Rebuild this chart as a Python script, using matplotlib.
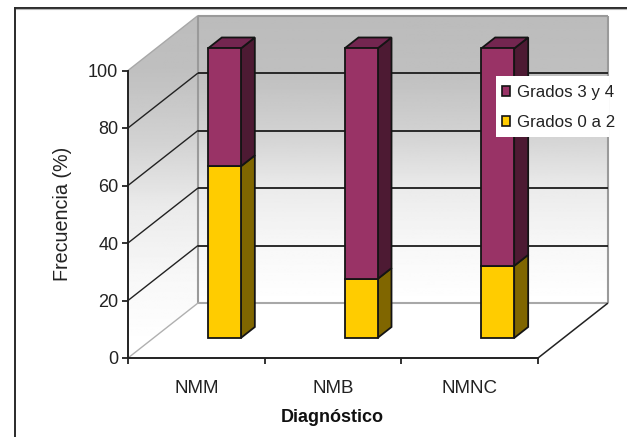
import numpy as np
import matplotlib
matplotlib.use("Agg")
import matplotlib.pyplot as plt
from matplotlib.lines import Line2D
from matplotlib.patches import Patch, Polygon, Rectangle

# Chart data
categories = ["NMM", "NMB", "NMNC"]
grados_0_a_2 = [59.7, 20.5, 25.1]
grados_3_y_4 = [41.0, 80.2, 75.6]
y_ticks = [0, 20, 40, 60, 80, 100]

plt.rcParams["font.family"] = ["Liberation Sans", "DejaVu Sans"]

W, H = 627, 437
fig = plt.figure(figsize=(W / 100, H / 100), dpi=100, facecolor="white")

# Front plane of the 3D box, in pixels
LEFT, RIGHT, BASE, TOP = 128, 538, 358, 70.5
ax = fig.add_axes([LEFT / W, 1 - BASE / H, (RIGHT - LEFT) / W, (BASE - TOP) / H])
ax.set_facecolor("none")
XMAX, YMAX = 3, 100
PX = (RIGHT - LEFT) / XMAX   # pixels per category
PY = (BASE - TOP) / YMAX     # pixels per percent


def shift(x, y, dx_px, dy_px):
    """Offset a data point by a distance given in pixels (dy upward)."""
    return x + dx_px / PX, y + dy_px / PY


# Box depth and bar placement, in pixels
DEPTH_X, DEPTH_Y = 70, 55
BAR_DX, BAR_DY = 28, 20
BAR_WIDTH = 33 / PX
SIDE_X, SIDE_Y = 14, 11

WALL = "#9a9a9a"
GRID = "#1c1c1c"
EDGE = "#141414"


def wall_gradient(polygon, top_px, bottom_px):
    """Fill a polygon with a vertical gray ramp running from dark to white."""
    levels = np.array([0.735, 0.75, 0.82, 0.92, 0.97, 1.0])
    stops = np.array([0.0, 0.2, 0.4, 0.6, 0.8, 1.0])
    ramp = np.interp(np.linspace(0, 1, 256), stops, levels)[:, None]
    y_top = (BASE - top_px) / PY
    y_bottom = (BASE - bottom_px) / PY
    xs = [p[0] for p in polygon]
    im = ax.imshow(ramp, cmap="gray", vmin=0, vmax=1, aspect="auto", zorder=1,
                   extent=(min(xs), max(xs), y_bottom, y_top), origin="upper")
    clip = Polygon(polygon, closed=True, transform=ax.transData)
    im.set_clip_box(fig.bbox)
    im.set_clip_path(clip)


# Box corners
back_x0, back_y0 = shift(0, 0, DEPTH_X, DEPTH_Y)
back_x1, back_y1 = shift(XMAX, YMAX, DEPTH_X, DEPTH_Y)

back_wall = [(back_x0, back_y0), (back_x1, back_y0), (back_x1, back_y1), (back_x0, back_y1)]
side_wall = [(0, 0), (back_x0, back_y0), (back_x0, back_y1), (0, YMAX)]
wall_gradient(back_wall, BASE - (back_y1 * PY), BASE - (back_y0 * PY))
wall_gradient(side_wall, 0, 345)


def seg(p, q, color, lw, z=2):
    ax.plot([p[0], q[0]], [p[1], q[1]], color=color, lw=lw, zorder=z,
            clip_on=False, solid_capstyle="butt")


# Wall outlines
seg((0, YMAX), (back_x0, back_y1), "#a8a8a8", 1.0)
seg((back_x0, back_y1), (back_x1, back_y1), WALL, 1.5)
seg((back_x1, back_y1), (back_x1, back_y0), WALL, 1.5)
seg((back_x0, back_y1), (back_x0, back_y0), WALL, 1.5)
seg((back_x0, back_y0), (back_x1, back_y0), "#a8a8a8", 1.5)
seg((0, 0), (back_x0, back_y0), "#b0b0b0", 1.0)
seg((XMAX, 0), (back_x1, back_y0), "#222222", 1.1)

# Gridlines wrapping the side and back walls
for v in y_ticks[1:-1]:
    level = v + DEPTH_Y / PY
    seg((0, v), (back_x0, level), "#222222", 1.0)
    seg((back_x0, level), (back_x1, level), GRID, 1.3)


def prism(center, low, high, face, side, top=None, z=5):
    """Draw one stacked segment: front from ax.bar, side and lid as polygons."""
    x0, y0 = shift(center - BAR_WIDTH / 2, low, BAR_DX, BAR_DY)
    x1, y1 = shift(center + BAR_WIDTH / 2, high, BAR_DX, BAR_DY)
    sx, sy = SIDE_X / PX, SIDE_Y / PY
    ax.add_patch(Polygon([(x1, y0), (x1 + sx, y0 + sy), (x1 + sx, y1 + sy), (x1, y1)],
                         closed=True, fc=side, ec=EDGE, lw=1.3, zorder=z, clip_on=False))
    if top is not None:
        ax.add_patch(Polygon([(x0, y1), (x0 + sx, y1 + sy), (x1 + sx, y1 + sy), (x1, y1)],
                             closed=True, fc=top, ec=EDGE, lw=1.3, zorder=z, clip_on=False))
    bars = ax.bar((x0 + x1) / 2, y1 - y0, width=x1 - x0, bottom=y0, color=face,
                  edgecolor=EDGE, linewidth=1.3, zorder=z + 0.5)
    bars[0].set_clip_on(False)


centers = np.arange(len(categories)) + 0.5
for c, low, high in zip(centers, grados_0_a_2, grados_3_y_4):
    prism(c, 0, low, "#ffcc00", "#806600")
    prism(c, low, low + high, "#993366", "#4d1a33", "#732650")

# Axes, ticks and labels
ax.set_xlim(0, XMAX)
ax.set_ylim(0, YMAX)
for name in ("top", "right"):
    ax.spines[name].set_visible(False)
for name in ("left", "bottom"):
    ax.spines[name].set_color("#222222")
    ax.spines[name].set_linewidth(1.4)
    ax.spines[name].set_zorder(4)
ax.set_yticks(y_ticks)
ax.set_xticks(range(XMAX + 1))
ax.set_xticklabels([])
ax.set_xticks(centers, labels=categories, minor=True)
ax.tick_params(axis="x", which="minor", length=0, pad=16, labelsize=13.5, labelcolor="#222222")
ax.tick_params(axis="x", which="major", length=4, width=1.3, color="#222222")
ax.tick_params(axis="y", length=4, width=1.3, color="#222222", labelsize=13,
               labelcolor="#222222", pad=3)
fig.text(63 / W, 1 - 213.5 / H, "Frecuencia (%)", rotation=90, fontsize=14.2,
         ha="center", va="center", color="#222222")
fig.text(332 / W, 1 - 417 / H, "Diagnóstico", fontsize=13, fontweight="bold",
         ha="center", va="center", color="#111111")

# Legend on a white panel over the back wall
fig.add_artist(Rectangle((496 / W, 1 - 137 / H), 113 / W, 61 / H, transform=fig.transFigure,
                         fc="white", ec="none", zorder=19))
handles = [Patch(fc="#993366", ec=EDGE, lw=1.2), Patch(fc="#ffcc00", ec=EDGE, lw=1.2)]
leg = fig.legend(handles, ["Grados 3 y 4", "Grados 0 a 2"], loc="upper left",
                 bbox_to_anchor=(496 / W, 1 - 79 / H), bbox_transform=fig.transFigure,
                 fontsize=12.2, frameon=False, borderpad=0.35, borderaxespad=0,
                 handlelength=0.5, handleheight=0.5, handletextpad=0.4,
                 labelspacing=0.9, labelcolor="#222222")
leg.set_zorder(20)

# Outer frame, open at the right and the bottom
fig.add_artist(Line2D([15 / W, 15 / W], [0, 1 - 7.5 / H], color="#2a2a2a", lw=1.4))
fig.add_artist(Line2D([15 / W, 1], [1 - 7.5 / H, 1 - 7.5 / H], color="#2a2a2a", lw=1.4))
fig.add_artist(Line2D([16 / W, 1], [1 - 9.2 / H, 1 - 9.2 / H], color="#b5b5b5", lw=0.8))

fig.savefig("out.png", dpi=100, facecolor="white")
